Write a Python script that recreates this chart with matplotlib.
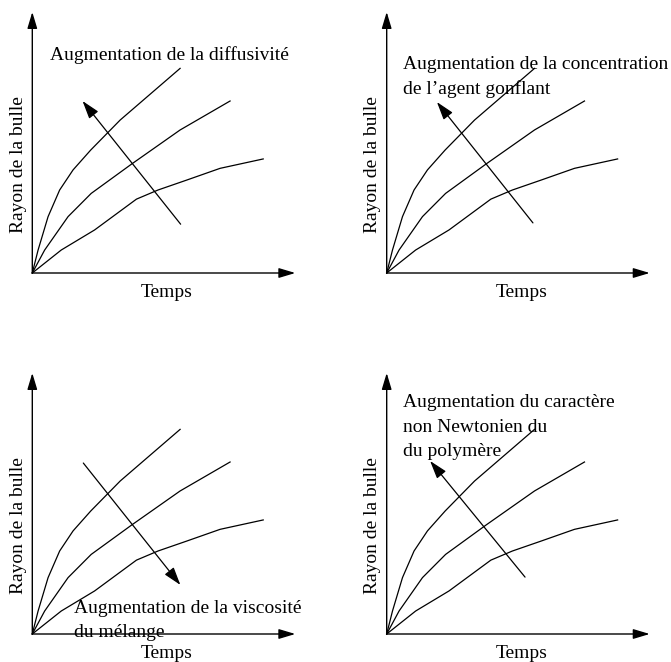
import matplotlib.pyplot as plt

plt.rcParams['font.family'] = ['Liberation Serif', 'DejaVu Serif']

# courbes rayon(temps) (unités arbitraires, axes 0..10)
t1 = [0, 0.22, 0.60, 1.04, 1.55, 2.22, 3.34, 4.48, 5.62]
r1 = [0, 0.88, 2.16, 3.18, 3.95, 4.71, 5.86, 6.85, 7.84]
t2 = [0, 0.47, 1.36, 2.24, 3.77, 5.62, 7.52]
r2 = [0, 0.88, 2.16, 3.05, 4.17, 5.48, 6.59]
t3 = [0, 1.10, 2.37, 3.96, 4.78, 5.87, 7.14, 8.78]
r3 = [0, 0.88, 1.65, 2.83, 3.18, 3.56, 4.01, 4.37]

# flèches (départ -> pointe) pour chaque panneau
arrow_start = [(5.64, 1.87), (5.56, 1.92), (1.94, 6.55), (5.26, 2.18)]
arrow_end = [(1.91, 6.59), (1.91, 6.55), (5.63, 1.88), (1.65, 6.63)]

labels = [
    "Augmentation de la diffusivité",
    "Augmentation de la concentration\nde l’agent gonflant",
    "Augmentation de la viscosité\ndu mélange",
    "Augmentation du caractère\nnon Newtonien du\ndu polymère",
]
label_pos = [(0.68, 8.35), (0.62, 7.51), (1.60, 0.53), (0.62, 7.93)]

# position des axes en pixels (origine x, origine y depuis le haut)
W, H = 671, 662
origins = [(32.3, 273), (386.7, 273), (32.3, 634), (386.7, 634)]
ax_w, ax_h = 263, 261

fig = plt.figure(figsize=(W / 100, H / 100), dpi=100)

for i, (ox, oy) in enumerate(origins):
    ax = fig.add_axes([ox / W, (H - oy) / H, ax_w / W, ax_h / H])
    ax.set_xlim(0, 10)
    ax.set_ylim(0, 10)
    ax.axis('off')

    # axes avec flèches
    ap = dict(arrowstyle='-|>,head_length=1.0,head_width=0.3', color='black',
              lw=1.0, shrinkA=0, shrinkB=0, mutation_scale=10)
    ax.annotate('', xy=(10, 0), xytext=(0, 0), arrowprops=ap, annotation_clip=False)
    ax.annotate('', xy=(0, 10), xytext=(0, 0), arrowprops=ap, annotation_clip=False)

    for t, r in [(t1, r1), (t2, r2), (t3, r3)]:
        ax.plot(t, r, color='black', lw=0.9, clip_on=False)

    ax.annotate('', xy=arrow_end[i], xytext=arrow_start[i],
                arrowprops=dict(arrowstyle='-|>,head_length=1.1,head_width=0.35',
                                color='black', lw=0.9, shrinkA=0, shrinkB=0,
                                mutation_scale=10),
                annotation_clip=False)

    ax.text(label_pos[i][0], label_pos[i][1], labels[i], fontsize=14,
            ha='left', va='center', linespacing=1.55, clip_on=False)
    ax.text(-0.54, 4.15, "Rayon de la bulle", fontsize=14, rotation=90,
            ha='center', va='center', clip_on=False)
    ax.text(5.12, -0.73, "Temps", fontsize=14, ha='center', va='center',
            clip_on=False)

fig.savefig('out.png', dpi=100)
